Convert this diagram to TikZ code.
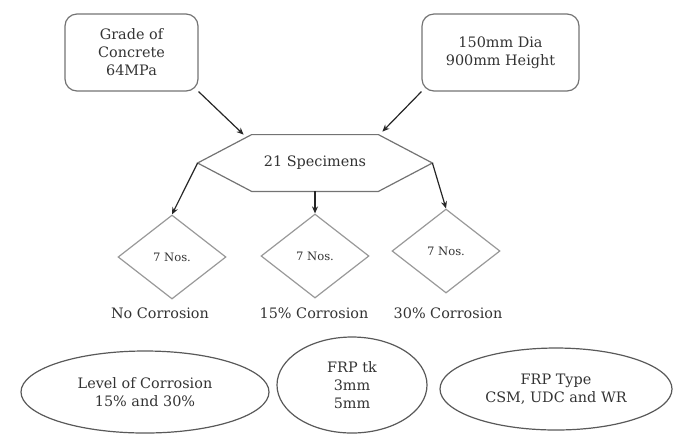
\documentclass[tikz,border=0pt]{standalone}
\usepackage{fontspec}
\setmainfont{DejaVu Serif}
\usetikzlibrary{shapes.geometric,arrows.meta}

\begin{document}
\begin{tikzpicture}[x=0.5pt,y=0.5pt]
\tikzstyle{every node}+=[inner sep=0pt, align=center, text=black!80, font=\fontsize{7.2}{9}\selectfont]
\tikzstyle{inbox}=[draw=black!55, rounded corners=6pt, minimum height=38.5pt, line width=0.6pt]
\tikzstyle{choice}=[draw=black!40, diamond, minimum width=54pt, minimum height=42pt, line width=0.6pt, font=\fontsize{5.8}{7}\selectfont]
\tikzstyle{factor}=[draw=black!65, ellipse, line width=0.6pt]
\tikzstyle{arr}=[black!85, line width=0.6pt, -{Stealth[length=3.5pt,width=3pt]}]
\useasboundingbox (0,0) rectangle (678,-436);
\draw (131.5,-52.5) node[inbox, minimum width=66.5pt] (grade) {Grade of\\Concrete\\64MPa};
\draw (500.5,-52.5) node[inbox, minimum width=78.5pt] (size) {150mm Dia\\900mm Height};
\draw (315,-163) node[minimum width=117pt, minimum height=28pt] (spec) {21 Specimens};
\draw [black!55, line width=0.6pt] (spec.west) -- ([xshift=27pt]spec.north west) -- ([xshift=-27pt]spec.north east) -- (spec.east) -- ([xshift=-27pt]spec.south east) -- ([xshift=27pt]spec.south west) -- cycle;
\draw (172,-257) node[choice] (nocorr) {7 Nos.};
\draw (315,-256) node[choice] (corr15) {7 Nos.};
\draw (446,-251) node[choice] (corr30) {7 Nos.};
\draw (160,-313) node (lblno) {No Corrosion};
\draw (314,-313) node (lbl15) {15\% Corrosion};
\draw (448,-313) node (lbl30) {30\% Corrosion};
\draw (145,-392) node[factor, minimum width=124pt, minimum height=41pt] (level) {Level of Corrosion\\15\% and 30\%};
\draw (352,-385) node[factor, minimum width=75pt, minimum height=48pt] (thick) {FRP tk\\3mm\\5mm};
\draw (556,-389) node[factor, minimum width=116pt, minimum height=41pt] (type) {FRP Type\\CSM, UDC and WR};
\draw [arr] (grade.south east) -- ([xshift=23pt]spec.north west);
\draw [arr] (size.south west) -- ([xshift=-25pt,yshift=1.5pt]spec.north east);
\draw [arr] (spec.west) -- (nocorr.north);
\draw [arr] (spec.south) -- (corr15.north);
\draw [arr] (spec.east) -- (corr30.north);
\end{tikzpicture}
\end{document}
